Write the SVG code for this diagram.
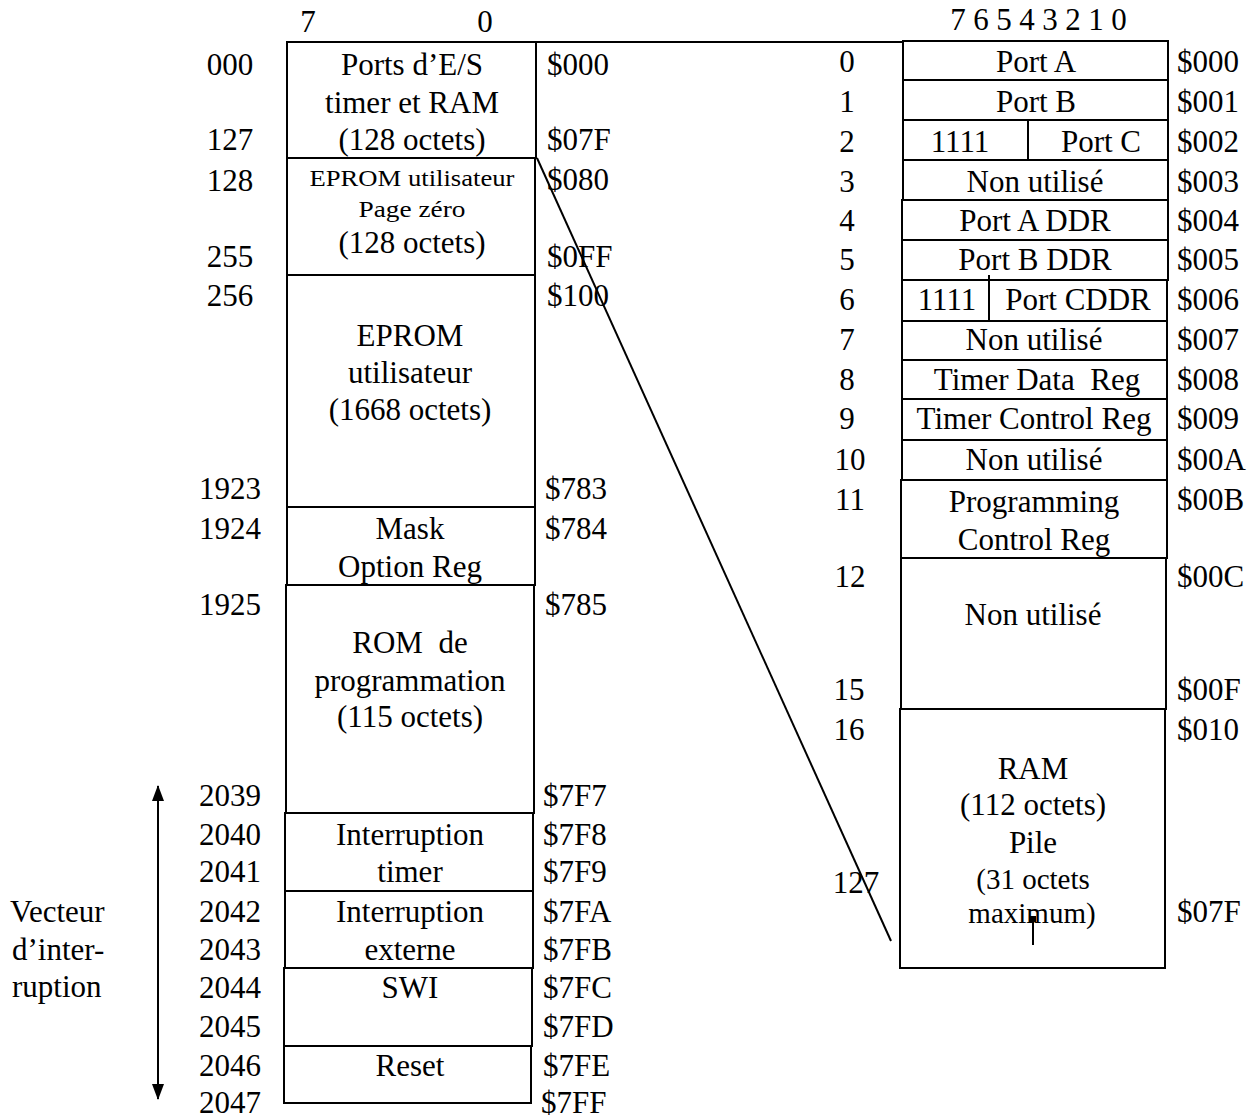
<svg xmlns="http://www.w3.org/2000/svg" width="1260" height="1118" viewBox="0 0 1260 1118">
<style>
.t{font-family:"Liberation Serif","Times New Roman",serif;font-size:31px;fill:#000;white-space:pre}
.c{text-anchor:middle}
.s{font-size:23px}
.m{font-size:29px}
.box{fill:none;stroke:#000;stroke-width:2}
.ln{stroke:#000;stroke-width:2;fill:none}
</style>
<defs>
<marker id="ah" markerUnits="userSpaceOnUse" markerWidth="16" markerHeight="12" refX="15" refY="6" orient="auto-start-reverse" viewBox="0 0 16 12">
<path d="M0,0 L16,6 L0,12 Z" fill="#000"/>
</marker>
</defs>

<rect width="1260" height="1118" fill="#fff"/>

<!-- headers -->
<g id="header-left">
<text class="t c" x="308" y="32">7</text>
<text class="t c" x="485" y="32">0</text>
</g>
<g id="header-right">
<text class="t c" x="958" y="30">7</text>
<text class="t c" x="981" y="30">6</text>
<text class="t c" x="1004" y="30">5</text>
<text class="t c" x="1027" y="30">4</text>
<text class="t c" x="1050" y="30">3</text>
<text class="t c" x="1073" y="30">2</text>
<text class="t c" x="1096" y="30">1</text>
<text class="t c" x="1119" y="30">0</text>
</g>

<!-- left memory map -->
<g id="l-io"><rect class="box" x="287" y="42" width="249" height="116"/>
<text class="t c" x="412" y="75">Ports d’E/S</text>
<text class="t c" x="412" y="113">timer et RAM</text>
<text class="t c" x="412" y="150">(128 octets)</text></g>
<g id="l-page0"><rect class="box" x="287" y="158" width="248" height="117"/>
<text class="t c s" x="412" y="186" textLength="205" lengthAdjust="spacingAndGlyphs">EPROM utilisateur</text>
<text class="t c s" x="412" y="217" textLength="107" lengthAdjust="spacingAndGlyphs">Page zéro</text>
<text class="t c" x="412" y="253">(128 octets)</text></g>
<g id="l-eprom"><rect class="box" x="287" y="275" width="248" height="232"/>
<text class="t c" x="410" y="346">EPROM</text>
<text class="t c" x="410" y="383">utilisateur</text>
<text class="t c" x="410" y="420">(1668 octets)</text></g>
<g id="l-mask"><rect class="box" x="287" y="507" width="248" height="78"/>
<text class="t c" x="410" y="539">Mask</text>
<text class="t c" x="410" y="577">Option Reg</text></g>
<g id="l-rom"><rect class="box" x="286" y="585" width="248" height="228"/>
<text class="t c" x="410" y="653">ROM  de</text>
<text class="t c" x="410" y="691">programmation</text>
<text class="t c" x="410" y="727">(115 octets)</text></g>
<g id="l-it-timer"><rect class="box" x="285" y="813" width="248" height="78"/>
<text class="t c" x="410" y="845">Interruption</text>
<text class="t c" x="410" y="882">timer</text></g>
<g id="l-it-ext"><rect class="box" x="285" y="891" width="248" height="77"/>
<text class="t c" x="410" y="922">Interruption</text>
<text class="t c" x="410" y="960">externe</text></g>
<g id="l-swi"><rect class="box" x="284" y="968" width="248" height="78"/>
<text class="t c" x="410" y="998">SWI</text></g>
<g id="l-reset"><rect class="box" x="284" y="1046" width="247" height="57"/>
<text class="t c" x="410" y="1076">Reset</text></g>

<!-- left decimal addresses -->
<g id="l-dec">
<text class="t c" x="230" y="75">000</text>
<text class="t c" x="230" y="150">127</text>
<text class="t c" x="230" y="191">128</text>
<text class="t c" x="230" y="267">255</text>
<text class="t c" x="230" y="306">256</text>
<text class="t c" x="230" y="499">1923</text>
<text class="t c" x="230" y="539">1924</text>
<text class="t c" x="230" y="615">1925</text>
<text class="t c" x="230" y="806">2039</text>
<text class="t c" x="230" y="845">2040</text>
<text class="t c" x="230" y="882">2041</text>
<text class="t c" x="230" y="922">2042</text>
<text class="t c" x="230" y="960">2043</text>
<text class="t c" x="230" y="998">2044</text>
<text class="t c" x="230" y="1037">2045</text>
<text class="t c" x="230" y="1076">2046</text>
<text class="t c" x="230" y="1113">2047</text>
</g>
<!-- left hex addresses -->
<g id="l-hex">
<text class="t" x="547" y="75">$000</text>
<text class="t" x="547" y="150">$07F</text>
<text class="t" x="547" y="190">$080</text>
<text class="t" x="547" y="267">$0FF</text>
<text class="t" x="547" y="306">$100</text>
<text class="t" x="545" y="499">$783</text>
<text class="t" x="545" y="539">$784</text>
<text class="t" x="545" y="615">$785</text>
<text class="t" x="543" y="806">$7F7</text>
<text class="t" x="543" y="845">$7F8</text>
<text class="t" x="543" y="882">$7F9</text>
<text class="t" x="543" y="922">$7FA</text>
<text class="t" x="543" y="960">$7FB</text>
<text class="t" x="543" y="998">$7FC</text>
<text class="t" x="543" y="1037">$7FD</text>
<text class="t" x="543" y="1076">$7FE</text>
<text class="t" x="541" y="1113">$7FF</text>
</g>

<!-- vector label -->
<g id="vecteur">
<text class="t" x="10" y="922">Vecteur</text>
<text class="t" x="12" y="960">d’inter-</text>
<text class="t" x="12" y="997">ruption</text>
</g>

<!-- right memory map -->
<g id="r-porta"><rect class="box" x="903" y="41" width="265" height="39"/><text class="t c" x="1036" y="72">Port A</text></g>
<g id="r-portb"><rect class="box" x="903" y="80" width="265" height="40"/><text class="t c" x="1036" y="112">Port B</text></g>
<g id="r-portc"><rect class="box" x="903" y="120" width="265" height="40"/><line class="ln" x1="1028" y1="120" x2="1028" y2="160"/>
<text class="t c" x="960" y="152">1111</text><text class="t c" x="1101" y="152">Port C</text></g>
<g id="r-nu3"><rect class="box" x="903" y="160" width="265" height="40"/><text class="t c" x="1035" y="192">Non utilisé</text></g>
<g id="r-ddra"><rect class="box" x="902" y="200" width="266" height="40"/><text class="t c" x="1035" y="231">Port A DDR</text></g>
<g id="r-ddrb"><rect class="box" x="902" y="240" width="266" height="40"/><text class="t c" x="1035" y="270">Port B DDR</text></g>
<g id="r-ddrc"><rect class="box" x="902" y="280" width="265" height="41"/><line class="ln" x1="989" y1="275" x2="989" y2="321"/>
<text class="t c" x="947" y="310">1111</text><text class="t c" x="1078" y="310">Port CDDR</text></g>
<g id="r-nu7"><rect class="box" x="902" y="321" width="265" height="39"/><text class="t c" x="1034" y="350">Non utilisé</text></g>
<g id="r-tdr"><rect class="box" x="902" y="360" width="265" height="39"/><text class="t c" x="1037" y="390">Timer Data  Reg</text></g>
<g id="r-tcr"><rect class="box" x="902" y="399" width="265" height="41"/><text class="t c" x="1034" y="429">Timer Control Reg</text></g>
<g id="r-nua"><rect class="box" x="902" y="440" width="265" height="40"/><text class="t c" x="1034" y="470">Non utilisé</text></g>
<g id="r-pcr"><rect class="box" x="901" y="480" width="266" height="78"/>
<text class="t c" x="1034" y="512">Programming</text><text class="t c" x="1034" y="550">Control Reg</text></g>
<g id="r-nuc"><rect class="box" x="901" y="558" width="265" height="151"/><text class="t c" x="1033" y="625">Non utilisé</text></g>
<g id="r-ram"><rect class="box" x="900" y="709" width="265" height="259"/>
<text class="t c" x="1033" y="779">RAM</text>
<text class="t c" x="1033" y="815">(112 octets)</text>
<text class="t c" x="1033" y="853">Pile</text>
<text class="t c m" x="1033" y="889">(31 octets</text>
<text class="t c m" x="1032" y="923">maximum)</text>
<line class="ln" x1="1033" y1="919" x2="1033" y2="945"/>
<rect x="1030" y="916" width="6" height="6" fill="#000"/></g>

<!-- right decimal -->
<g id="r-dec">
<text class="t c" x="847" y="72">0</text>
<text class="t c" x="847" y="112">1</text>
<text class="t c" x="847" y="152">2</text>
<text class="t c" x="847" y="192">3</text>
<text class="t c" x="847" y="231">4</text>
<text class="t c" x="847" y="270">5</text>
<text class="t c" x="847" y="310">6</text>
<text class="t c" x="847" y="350">7</text>
<text class="t c" x="847" y="390">8</text>
<text class="t c" x="847" y="429">9</text>
<text class="t c" x="850" y="470">10</text>
<text class="t c" x="850" y="510">11</text>
<text class="t c" x="850" y="587">12</text>
<text class="t c" x="849" y="700">15</text>
<text class="t c" x="849" y="740">16</text>
<text class="t c" x="856" y="893">127</text>
</g>
<!-- right hex -->
<g id="r-hex">
<text class="t" x="1177" y="72">$000</text>
<text class="t" x="1177" y="112">$001</text>
<text class="t" x="1177" y="152">$002</text>
<text class="t" x="1177" y="192">$003</text>
<text class="t" x="1177" y="231">$004</text>
<text class="t" x="1177" y="270">$005</text>
<text class="t" x="1177" y="310">$006</text>
<text class="t" x="1177" y="350">$007</text>
<text class="t" x="1177" y="390">$008</text>
<text class="t" x="1177" y="429">$009</text>
<text class="t" x="1177" y="470">$00A</text>
<text class="t" x="1177" y="510">$00B</text>
<text class="t" x="1177" y="587">$00C</text>
<text class="t" x="1177" y="700">$00F</text>
<text class="t" x="1177" y="740">$010</text>
<text class="t" x="1177" y="922">$07F</text>
</g>

<!-- connectors -->
<g id="connectors">
<line class="ln" x1="536" y1="42" x2="903" y2="42"/>
<line class="ln" stroke-width="2.5" x1="537" y1="158" x2="891" y2="941"/>
<line class="ln" x1="158" y1="786" x2="158" y2="1099" marker-start="url(#ah)" marker-end="url(#ah)"/>
</g>
</svg>
